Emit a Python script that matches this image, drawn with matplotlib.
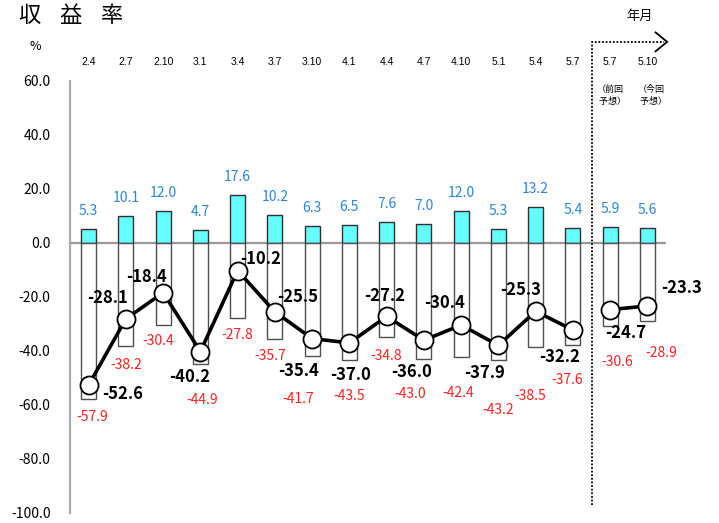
import numpy as np
import matplotlib
matplotlib.use("Agg")
import matplotlib.pyplot as plt

plt.rcParams['font.family'] = ['Noto Sans CJK JP', 'DejaVu Sans']

# =========================
# datos
# =========================
periodos = ["2.4", "2.7", "2.10", "3.1", "3.4", "3.7", "3.10", "4.1",
            "4.4", "4.7", "4.10", "5.1", "5.4", "5.7", "5.7", "5.10"]
positivos = [5.3, 10.1, 12.0, 4.7, 17.6, 10.2, 6.3, 6.5,
             7.6, 7.0, 12.0, 5.3, 13.2, 5.4, 5.9, 5.6]
negativos = [-57.9, -38.2, -30.4, -44.9, -27.8, -35.7, -41.7, -43.5,
             -34.8, -43.0, -42.4, -43.2, -38.5, -37.6, -30.6, -28.9]
saldo = [-52.6, -28.1, -18.4, -40.2, -10.2, -25.5, -35.4, -37.0,
         -27.2, -36.0, -30.4, -37.9, -25.3, -32.2, -24.7, -23.3]
yticks = [60, 40, 20, 0, -20, -40, -60, -80, -100]
n_real = 14  # los dos últimos son previsiones

# desplazamientos de etiquetas (pixeles, y hacia arriba)
off_saldo = [(34, -9), (-18, 21), (-17, 16), (-11, -25), (23, 12), (23, 15),
             (-14, -32), (1, -32), (-2, 20), (-12, -32), (-17, 22), (-14, -28),
             (-15, 21), (-13, -27), (15, -23), (34, 18)]
off_neg = [(4, -18), (0, -19), (-5, -16), (2, -36), (0, -17), (-5, -17),
           (-14, -43), (0, -36), (0, -19), (-14, -35), (-3, -36), (0, -50),
           (-5, -49), (-6, -35), (7, -36), (14, -32)]

x = np.arange(len(periodos))

fig = plt.figure(figsize=(7.19, 5.23), dpi=100)
ax = fig.add_axes([70/719, 10/523, 596/719, 432/523])

# barras
ax.bar(x, positivos, width=0.4, color='#66ffff', edgecolor='#303030', linewidth=1, zorder=2)
ax.bar(x, negativos, width=0.4, color='white', edgecolor='#505050', linewidth=1, zorder=2)

# línea cero
ax.axhline(0, color='#999999', linewidth=1.6, zorder=1)

# línea de saldo
ax.plot(x[:n_real], saldo[:n_real], color='black', linewidth=2.6, zorder=3)
ax.plot(x[n_real:], saldo[n_real:], color='black', linewidth=2.6, zorder=3)
ax.plot(x, saldo, linestyle='none', marker='o', markersize=13,
        markerfacecolor='white', markeredgecolor='black', markeredgewidth=1.3, zorder=4)

# etiquetas
for i in range(len(x)):
    ax.annotate(f"{positivos[i]:.1f}", (x[i], positivos[i]), xytext=(0, 18),
                textcoords='offset pixels', ha='center', va='center',
                fontsize=10, color='#2a86d6')
    ax.annotate(f"{negativos[i]:.1f}", (x[i], negativos[i]), xytext=off_neg[i],
                textcoords='offset pixels', ha='center', va='center',
                fontsize=10, color='#ff2020')
    ax.annotate(f"{saldo[i]:.1f}", (x[i], saldo[i]), xytext=off_saldo[i],
                textcoords='offset pixels', ha='center', va='center',
                fontsize=12, fontweight='bold', color='black', zorder=5)
    ax.text(x[i], 67, periodos[i], ha='center', va='center', fontsize=7.5,
            family='Liberation Sans', transform=ax.transData, clip_on=False)

ax.set_xlim(-0.5, 15.5)
ax.set_ylim(-100, 60)
ax.set_xticks([])
ax.set_yticks(yticks)
ax.set_yticklabels([f"{v:.1f}" for v in yticks], fontsize=10)
ax.tick_params(axis='y', length=0, pad=14)
for s in ['top', 'right', 'bottom']:
    ax.spines[s].set_visible(False)
ax.spines['left'].set_color('#aaaaaa')
ax.spines['left'].set_linewidth(1.6)

# separador de previsiones
xs = 13.5
ax.plot([xs, xs, 15.45], [-97, 74.5, 74.5], color='black', linestyle=(0, (1, 1)),
        linewidth=1.3, clip_on=False)
ax.plot([15.22, 15.53, 15.22], [78.0, 74.5, 71.0], color='black', linewidth=1.3,
        clip_on=False, solid_joinstyle='miter')

ax.text(14.0, 54.5, "（前回\n  予想）", ha='center', va='center', fontsize=6.5,
        linespacing=1.4, clip_on=False)
ax.text(15.1, 54.5, "（今回\n  予想）", ha='center', va='center', fontsize=6.5,
        linespacing=1.4, clip_on=False)

# textos de cabecera
for cx, ch in zip([29, 71, 112], "収益率"):
    fig.text(cx/719, 1 - 15/523, ch, fontsize=16, va='center', ha='center')
fig.text(35/719, 1 - 46/523, "%", fontsize=9, va='center', ha='center')
fig.text(640/719, 1 - 16/523, "年月", fontsize=9.5, va='center', ha='center')

fig.savefig("out.png", dpi=100)
